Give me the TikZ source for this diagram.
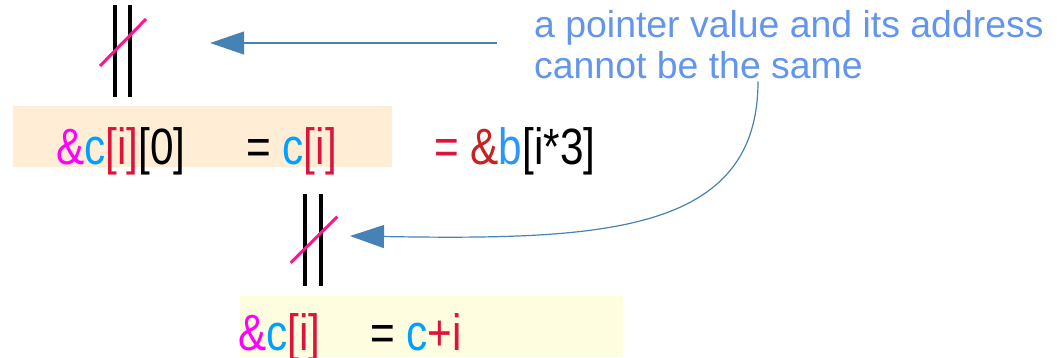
\documentclass[tikz,border=0pt]{standalone}
\usepackage{fontspec}
\setmainfont{Liberation Sans}
\newfontfamily\codefont[FakeStretch=0.83]{Liberation Sans}
\usetikzlibrary{arrows.meta, calc}
\definecolor{amp}{RGB}{255,0,255}
\definecolor{ampdark}{RGB}{200,33,30}
\definecolor{cblue}{RGB}{0,160,255}
\definecolor{bblue}{RGB}{42,150,255}
\definecolor{brk}{RGB}{220,20,60}
\definecolor{notecol}{RGB}{100,149,237}
\definecolor{steel}{RGB}{70,130,180}
\definecolor{slashcol}{RGB}{255,20,147}
\definecolor{boxone}{RGB}{255,238,213}
\definecolor{boxtwo}{RGB}{255,253,224}

\begin{document}
\begin{tikzpicture}[
    x=1pt, y=-1pt,
    code/.style={anchor=base west, inner sep=0pt, font=\codefont\fontsize{51}{56}\selectfont},
    note/.style={anchor=west, inner sep=0pt, align=left, text=notecol, font=\fontsize{37.4}{41}\selectfont},
    neqbox/.style={inner sep=0pt, minimum width=15pt, minimum height=92pt},
    bar/.style={line width=4pt, black},
    slash/.style={line width=3pt, slashcol},
    arr/.style={-{Triangle[length=34pt, width=23pt]}, line width=1.2pt, steel},
]
\useasboundingbox (0,0) rectangle (1060,357);

% backgrounds
\fill[boxone] (13,106) rectangle (392,167);
\fill[boxtwo] (240,296) rectangle (623,357);

% first row
\node[code] (lhsA) at (56,164) {\textcolor{amp}{\&}\textcolor{cblue}{c}\textcolor{brk}{[i]}[0]};
\node[code] (rhsA) at (246,164) {= \textcolor{cblue}{c}\textcolor{brk}{[i]}};
\node[code] (extA) at (434,164) {\textcolor{brk}{=} \textcolor{ampdark}{\&}\textcolor{bblue}{b}[i*3]};

% second row
\node[code] (lhsB) at (238,350) {\textcolor{amp}{\&}\textcolor{cblue}{c}\textcolor{brk}{[i]}};
\node[code] (rhsB) at (370,350) {= \textcolor{cblue}{c}\textcolor{brk}{+i}};

% not-equal marks
\node[neqbox] (neqA) at (122.5,51) {};
\node[neqbox] (neqB) at (313,240) {};
\foreach \n in {neqA, neqB} {
  \draw[bar] (\n.north west) -- (\n.south west);
  \draw[bar] (\n.north east) -- (\n.south east);
}
\draw[slash] ($(neqA.center)+(-22.5,15)$) -- ($(neqA.center)+(23.5,-32)$);
\draw[slash] ($(neqB.center)+(-22.3,22.7)$) -- ($(neqB.center)+(24.3,-23.3)$);

% remark
\node[note] (note) at (534,45) {a pointer value and its address\\cannot be the same};

% arrows
\draw[arr] ($(note.west)+(-37,-2)$) -- ($(neqA.east)+(80,-8)$);
\draw[arr] ($(note.south west)+(224,2)$) .. controls +(0,153) and +(250,4) .. ($(neqB.east)+(29.3,-4)$);
\end{tikzpicture}
\end{document}
